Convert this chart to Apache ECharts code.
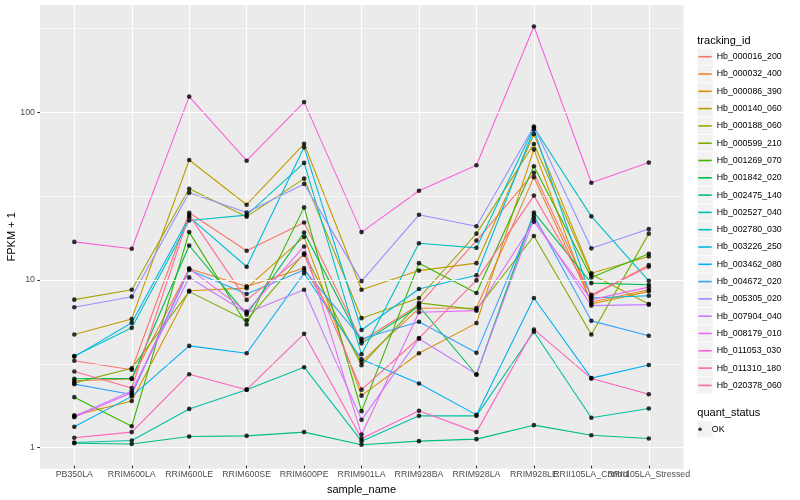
<!DOCTYPE html>
<html>
<head>
<meta charset="utf-8">
<script src="https://cdn.jsdelivr.net/npm/echarts@6/dist/echarts.min.js"></script>
<style>
html,body{margin:0;padding:0;background:#fff;}
#c{width:800px;height:500px;}
</style>
</head>
<body>
<div id="c"></div>
<script>
// ---- data ----
const categories = ['PB350LA','RRIM600LA','RRIM600LE','RRIM600SE','RRIM600PE','RRIM901LA','RRIM928BA','RRIM928LA','RRIM928LE','RRII105LA_Control','RRII105LA_Stressed'];
const trackingIds = ['Hb_000016_200','Hb_000032_400','Hb_000086_390','Hb_000140_060','Hb_000188_060','Hb_000599_210','Hb_001269_070','Hb_001842_020','Hb_002475_140','Hb_002527_040','Hb_002780_030','Hb_003226_250','Hb_003462_080','Hb_004672_020','Hb_005305_020','Hb_007904_040','Hb_008179_010','Hb_011053_030','Hb_011310_180','Hb_020378_060'];
const palette = ['#F8766D','#EA8331','#D89000','#C09B00','#A3A500','#7CAE00','#39B600','#00BB4E','#00BF7D','#00C1A3','#00BFC4','#00BAE0','#00B0F6','#35A2FF','#9590FF','#C77CFF','#E76BF3','#FA62DB','#FF62BC','#FF6C91'];

const hb_000016_200 = [3.19, 2.82, 24.7, 14.6, 21.6, 4.19, 6.93, 16.8, 42.9, 7.78, 12.0];
const hb_000032_400 = [2.42, 2.48, 11.4, 8.92, 11.5, 3.14, 6.59, 6.62, 40.4, 7.19, 8.51];
const hb_000086_390 = [1.50, 1.83, 8.4, 8.71, 17.7, 1.97, 3.54, 5.37, 59.3, 7.00, 8.33];
const hb_000140_060 = [4.59, 5.69, 51.2, 27.6, 64.1, 8.51, 11.1, 12.3, 73.2, 10.7, 13.5];
const hb_000188_060 = [7.43, 8.51, 34.4, 23.4, 39.6, 5.75, 7.60, 18.5, 63.9, 10.5, 7.00];
const hb_000599_210 = [2.35, 2.88, 8.3, 5.59, 14.1, 3.0, 7.10, 6.47, 17.9, 4.59, 18.5];
const hb_001269_070 = [1.93, 1.29, 18.9, 5.27, 26.6, 1.59, 12.3, 8.14, 47.0, 10.1, 14.0];
const hb_001842_020 = [2.49, 2.50, 15.7, 6.04, 18.8, 4.06, 6.78, 2.63, 24.8, 9.34, 9.12];
const hb_002475_140 = [1.02, 1.01, 1.12, 1.13, 1.19, 1.00, 1.05, 1.08, 1.31, 1.14, 1.09];
const hb_002527_040 = [1.03, 1.06, 1.64, 2.14, 2.92, 1.05, 1.49, 1.49, 4.77, 1.45, 1.65];
const hb_002780_030 = [3.41, 5.03, 22.2, 23.9, 49.2, 3.49, 16.2, 15.2, 80.3, 23.5, 9.64];
const hb_003226_250 = [3.38, 5.39, 23.3, 11.7, 61.0, 4.88, 8.60, 10.4, 78.0, 7.60, 7.84];
const hb_003462_080 = [1.28, 1.95, 3.92, 3.54, 10.7, 3.26, 2.33, 1.51, 7.60, 2.51, 3.01];
const hb_004672_020 = [2.31, 2.00, 11.2, 8.03, 11.2, 4.33, 5.47, 3.56, 23.8, 5.54, 4.51];
const hb_005305_020 = [6.69, 7.74, 32.6, 24.8, 36.8, 9.6, 24.0, 20.5, 81.4, 15.1, 19.7];
const hb_007904_040 = [1.48, 2.10, 10.1, 6.18, 8.51, 1.41, 4.33, 2.65, 22.8, 6.84, 6.93];
const hb_008179_010 = [1.46, 2.05, 11.4, 6.30, 15.5, 1.15, 6.24, 6.38, 21.8, 7.43, 8.83];
const hb_011053_030 = [16.5, 15.0, 123, 50.7, 114, 18.9, 33.5, 47.6, 324, 37.4, 49.4];
const hb_011310_180 = [1.10, 1.19, 2.65, 2.14, 4.63, 1.09, 1.60, 1.19, 4.92, 2.50, 2.01];
const hb_020378_060 = [2.75, 2.19, 23.9, 7.40, 13.8, 2.14, 4.37, 9.69, 31.3, 7.95, 11.7];

const seriesValues = [hb_000016_200, hb_000032_400, hb_000086_390, hb_000140_060, hb_000188_060, hb_000599_210, hb_001269_070, hb_001842_020, hb_002475_140, hb_002527_040, hb_002780_030, hb_003226_250, hb_003462_080, hb_004672_020, hb_005305_020, hb_007904_040, hb_008179_010, hb_011053_030, hb_011310_180, hb_020378_060];

const majorBreaks = [1, 10, 100];
const minorBreaks = [3.1623, 31.623, 316.23];
const yMin = 0.749, yMax = 436.5;

// ---- layout ----
const FONT = 'Liberation Sans, Arial, Helvetica, sans-serif';
const panel = {left: 40, top: 5, width: 643.5, height: 463.7};
const catLeft = 74.3, catWidth = 574.5;
const legX = 697.3, legFirst = 56.7, legStep = 17.3;

const chart = echarts.init(document.getElementById('c'), null, {renderer: 'canvas'});

const series = [];
series.push({
  type: 'line', name: '__grid', xAxisIndex: 0, yAxisIndex: 0, data: [], z: 1,
  silent: true, animation: false,
  markLine: {
    silent: true, symbol: ['none', 'none'], animation: false,
    label: {show: false},
    emphasis: {disabled: true},
    data: majorBreaks.map(v => ({yAxis: v, lineStyle: {color: '#fff', width: 1.1, type: 'solid'}}))
      .concat(minorBreaks.map(v => ({yAxis: v, lineStyle: {color: '#fff', width: 0.55, type: 'solid'}})))
  }
});
trackingIds.forEach((id, i) => {
  series.push({
    type: 'line', name: id, xAxisIndex: 1, yAxisIndex: 1,
    data: seriesValues[i],
    showSymbol: false, symbol: 'none',
    lineStyle: {color: palette[i], width: 1.1},
    itemStyle: {color: palette[i]},
    emphasis: {disabled: true},
    animation: false, z: 3
  });
});
const pts = [];
seriesValues.forEach(arr => arr.forEach((v, j) => pts.push([categories[j], v])));
series.push({
  type: 'scatter', name: 'OK', xAxisIndex: 1, yAxisIndex: 1,
  data: pts, symbol: 'circle', symbolSize: 4.6,
  itemStyle: {color: '#000'}, emphasis: {disabled: true},
  animation: false, z: 5
});

const graphics = [];
trackingIds.forEach((id, i) => {
  graphics.push({type: 'rect', left: legX, top: legFirst - 8.15 + i * legStep, z: -1,
    shape: {width: 15.4, height: 16.3}, style: {fill: '#F2F2F2'}, silent: true});
});
graphics.push({type: 'rect', left: legX, top: 429.3 - 8.15, z: -1,
  shape: {width: 15.4, height: 16.3}, style: {fill: '#F2F2F2'}, silent: true});
graphics.push({type: 'text', x: legX, y: 40.7, silent: true,
  style: {text: 'tracking_id', font: '11px ' + FONT, fill: '#000', textAlign: 'left', textVerticalAlign: 'middle'}});
graphics.push({type: 'text', x: legX, y: 412.7, silent: true,
  style: {text: 'quant_status', font: '11px ' + FONT, fill: '#000', textAlign: 'left', textVerticalAlign: 'middle'}});
graphics.push({type: 'text', x: 12, y: panel.top + panel.height / 2, rotation: Math.PI / 2, silent: true,
  style: {text: 'FPKM + 1', font: '11px ' + FONT, fill: '#000', textAlign: 'center', textVerticalAlign: 'middle'}});

chart.setOption({
  animation: false,
  backgroundColor: '#fff',
  textStyle: {fontFamily: FONT},
  grid: [
    {left: panel.left, top: panel.top, width: panel.width, height: panel.height, show: true, backgroundColor: '#EBEBEB', borderWidth: 0, z: -2},
    {left: catLeft, top: panel.top, width: catWidth, height: panel.height, show: false}
  ],
  xAxis: [
    {gridIndex: 0, type: 'value', min: 0, max: 1, show: false},
    {gridIndex: 1, type: 'category', data: categories, boundaryGap: false,
      name: 'sample_name', nameLocation: 'middle', nameGap: 14,
      nameTextStyle: {fontSize: 11, color: '#000', fontFamily: FONT},
      axisLine: {show: false},
      axisTick: {show: true, length: 2.75, lineStyle: {color: '#333', width: 1.07}},
      axisLabel: {interval: 0, fontSize: 8.8, color: '#4D4D4D', margin: 4.5, fontFamily: FONT, hideOverlap: false},
      splitLine: {show: true, interval: 0, lineStyle: {color: '#fff', width: 1.1}}
    }
  ],
  yAxis: [
    {gridIndex: 0, type: 'log', logBase: 10, min: yMin, max: yMax,
      axisLine: {show: false},
      axisTick: {show: true, length: 2.75, customValues: majorBreaks, lineStyle: {color: '#333', width: 1.07}},
      axisLabel: {fontSize: 8.8, color: '#4D4D4D', margin: 5, fontFamily: FONT, customValues: majorBreaks,
        formatter: v => String(v)},
      splitLine: {show: false}, minorSplitLine: {show: false}
    },
    {gridIndex: 1, type: 'log', logBase: 10, min: yMin, max: yMax, show: false,
      splitLine: {show: false}}
  ],
  legend: [
    {orient: 'vertical', left: legX + 1, top: legFirst - legStep / 2, padding: 0, itemGap: 0,
      itemWidth: 13.4, itemHeight: 1.6, icon: 'rect', selectedMode: false,
      textStyle: {fontSize: 8.8, lineHeight: legStep, color: '#000', fontFamily: FONT},
      data: trackingIds},
    {orient: 'vertical', left: legX + 1, top: 429.3 - legStep / 2, padding: 0, itemGap: 0,
      itemWidth: 13.4, itemHeight: 3.6, selectedMode: false, symbolKeepAspect: true,
      icon: 'path://M2,0A2,2,0,1,1,2,4A2,2,0,1,1,2,0Z',
      textStyle: {fontSize: 8.8, lineHeight: legStep, color: '#000', fontFamily: FONT},
      data: ['OK']}
  ],
  graphic: graphics,
  series: series
});
</script>
</body>
</html>
